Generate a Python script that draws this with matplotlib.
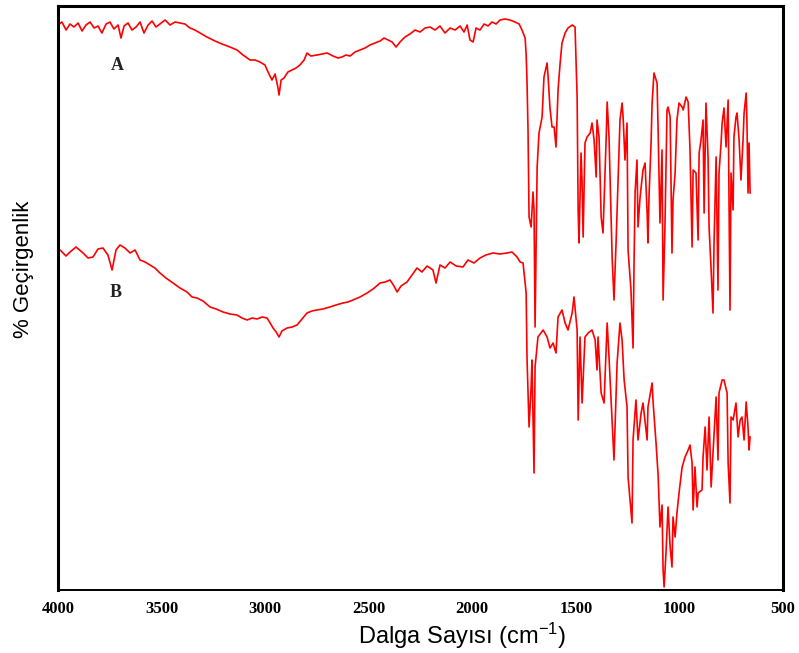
import matplotlib
matplotlib.use("Agg")
import matplotlib.pyplot as plt

# FTIR spectra, transmittance in arbitrary units (no y scale on the original)
wn_a = [4000, 3981, 3961, 3942, 3923, 3903, 3884, 3865, 3845, 3826, 3807, 3788,
        3768, 3749, 3730, 3710, 3696, 3681, 3662, 3643, 3623, 3604, 3585, 3565,
        3546, 3527, 3508, 3483, 3459, 3435, 3411, 3387, 3363, 3339, 3314, 3281,
        3242, 3208, 3170, 3136, 3107, 3073, 3049, 3025, 3001, 2986, 2967, 2952,
        2938, 2933, 2923, 2909, 2890, 2870, 2851, 2832, 2812, 2798, 2779, 2750,
        2725, 2701, 2672, 2648, 2629, 2610, 2590, 2566, 2542, 2518, 2494, 2470,
        2445, 2426, 2407, 2387, 2368, 2349, 2325, 2301, 2276, 2252, 2228, 2204,
        2180, 2156, 2132, 2107, 2083, 2059, 2040, 2025, 2011, 1996, 1982, 1963,
        1943, 1924, 1905, 1885, 1866, 1842, 1818, 1794, 1774, 1760, 1745, 1740,
        1736, 1731, 1726, 1716, 1707, 1702, 1697, 1692, 1687, 1678, 1663, 1654,
        1639, 1634, 1625, 1615, 1605, 1596, 1586, 1576, 1567, 1552, 1538, 1518,
        1504, 1494, 1489, 1485, 1475, 1470, 1465, 1456, 1446, 1431, 1422, 1412,
        1402, 1398, 1388, 1378, 1369, 1354, 1349, 1340, 1325, 1316, 1306, 1296,
        1287, 1277, 1272, 1263, 1253, 1248, 1234, 1224, 1219, 1214, 1205, 1200,
        1190, 1181, 1176, 1166, 1156, 1152, 1147, 1137, 1132, 1123, 1108, 1103,
        1094, 1084, 1079, 1070, 1060, 1055, 1045, 1036, 1031, 1021, 1012, 1002,
        987, 982, 968, 958, 949, 939, 934, 920, 910, 905, 896, 886, 881, 872,
        862, 857, 847, 838, 833, 823, 814, 809, 799, 794, 785, 775, 765, 760,
        756, 751, 741, 737, 727, 722, 712, 703, 693, 688, 678, 674, 669, 664, 659]
t_a = [565, 568, 560, 566, 563, 567, 559, 565, 568, 562, 564, 557,
       566, 568, 561, 565, 552, 564, 567, 560, 563, 568, 557, 565,
       569, 563, 566, 570, 565, 568, 567, 566, 562, 560, 557, 553,
       549, 546, 543, 540, 535, 530, 530, 528, 525, 518, 510, 516,
       502, 495, 510, 512, 518, 520, 522, 525, 530, 537, 534, 535,
       536, 537, 534, 532, 533, 535, 534, 538, 540, 542, 545, 547,
       549, 552, 550, 548, 543, 548, 553, 556, 560, 558, 562, 563,
       560, 564, 557, 562, 560, 564, 558, 565, 550, 548, 562, 560,
       566, 564, 568, 566, 570, 571, 570, 568, 566, 560, 552, 535,
       510, 460, 373, 363, 398, 380, 263, 340, 423, 457, 473, 513,
       527, 513, 482, 463, 463, 443, 500, 527, 547, 557, 562, 565,
       563, 493, 380, 347, 437, 407, 353, 447, 453, 457, 467, 450,
       413, 470, 453, 373, 357, 450, 488, 453, 333, 290, 347, 413,
       470, 487, 473, 430, 467, 340, 300, 242, 330, 398, 430, 363,
       393, 410, 420, 427, 377, 347, 393, 447, 487, 517, 507, 460,
       367, 440, 290, 363, 480, 483, 473, 337, 390, 417, 470, 487,
       483, 480, 493, 488, 440, 343, 420, 417, 350, 437, 450, 470, 377, 487,
       433, 363, 320, 277, 347, 433, 300, 417, 447, 467, 482, 443, 490, 367,
       280, 417, 380, 453, 473, 477, 450, 410, 450, 477, 497, 467, 397, 447, 397]

wn_b = [4000, 3990, 3961, 3942, 3913, 3879, 3855, 3831, 3807, 3783, 3759, 3739,
        3720, 3701, 3677, 3652, 3628, 3604, 3580, 3556, 3532, 3508, 3479, 3445,
        3411, 3377, 3353, 3329, 3300, 3266, 3237, 3203, 3170, 3136, 3112, 3087,
        3063, 3039, 3015, 2991, 2976, 2962, 2947, 2933, 2919, 2894, 2870, 2846,
        2822, 2798, 2774, 2750, 2721, 2687, 2658, 2624, 2600, 2576, 2542, 2508,
        2479, 2445, 2421, 2397, 2378, 2363, 2344, 2315, 2291, 2267, 2243, 2218,
        2190, 2175, 2156, 2132, 2107, 2078, 2045, 2021, 1992, 1963, 1934, 1900,
        1866, 1832, 1808, 1784, 1769, 1755, 1740, 1736, 1726, 1716, 1712, 1702,
        1697, 1683, 1658, 1639, 1625, 1610, 1596, 1586, 1567, 1552, 1538, 1518,
        1509, 1494, 1489, 1480, 1470, 1456, 1441, 1422, 1407, 1398, 1393, 1378,
        1364, 1349, 1340, 1325, 1316, 1301, 1287, 1277, 1267, 1253, 1248, 1229,
        1224, 1210, 1200, 1185, 1176, 1156, 1152, 1132, 1127, 1113, 1103, 1094,
        1084, 1079, 1074, 1065, 1055, 1045, 1036, 1031, 1021, 1012, 1002, 987,
        973, 958, 949, 939, 934, 925, 915, 910, 891, 886, 876, 867, 857, 847,
        838, 823, 814, 809, 794, 785, 770, 765, 756, 751, 741, 727, 717, 707,
        698, 688, 678, 669, 664, 659]
t_b = [340, 340, 334, 338, 343, 337, 332, 333, 341, 342, 335, 320,
       340, 345, 342, 337, 340, 330, 328, 325, 322, 317, 312, 307,
       302, 298, 293, 292, 289, 283, 281, 278, 276, 275, 272, 270,
       272, 271, 273, 272, 267, 262, 258, 253, 259, 262, 263, 265,
       271, 277, 279, 280, 281, 283, 285, 287, 288, 290, 293, 297,
       301, 307, 308, 310, 304, 298, 304, 308, 315, 322, 318, 324,
       320, 307, 325, 322, 328, 324, 323, 330, 327, 332, 335, 337,
       336, 337, 338, 333, 328, 327, 297, 233, 163, 203, 230, 117,
       223, 253, 260, 253, 242, 247, 237, 273, 280, 267, 260, 277,
       293, 260, 170, 253, 187, 253, 257, 260, 250, 220, 253, 197,
       187, 267, 233, 170, 130, 227, 267, 250, 210, 183, 113, 67,
       150, 190, 150, 177, 187, 150, 183, 207, 187, 147, 115, 63,
       85, 20, 3, 37, 83, 43, 23, 73, 53, 77, 97, 123,
       133, 140, 145, 127, 80, 123, 83, 97, 100, 133, 163, 120, 173, 103,
       137, 193, 130, 197, 210, 210, 197, 127, 87, 173, 170, 187, 153, 170,
       173, 150, 188, 163, 140, 153]

x_ticks = [4000, 3500, 3000, 2500, 2000, 1500, 1000, 500]

plt.rcParams["mathtext.fontset"] = "custom"
plt.rcParams["mathtext.rm"] = "Liberation Sans"
plt.rcParams["mathtext.it"] = "Liberation Sans"

fig = plt.figure(figsize=(7.99, 6.53), dpi=100)
ax = fig.add_axes([0.0726, 0.0965, 0.9074, 0.8943])

ax.plot(wn_a, t_a, color="#ff0000", lw=1.2)
ax.plot(wn_b, t_b, color="#ff0000", lw=1.2)

ax.text(3715, 525, "A", ha="center", va="center", fontsize=13,
        fontweight="bold", family="Liberation Serif", color="#222222")
ax.text(3720, 297, "B", ha="center", va="center", fontsize=13,
        fontweight="bold", family="Liberation Serif", color="#222222")

ax.set_xlim(4000, 500)
ax.set_ylim(0, 584)
ax.set_xticks(x_ticks)
ax.set_xticklabels([str(t) for t in x_ticks], family="Liberation Serif",
                   fontweight="bold", fontsize=12)
ax.tick_params(axis="x", length=0, pad=8)
ax.set_yticks([])

for side in ["top", "left", "right"]:
    ax.spines[side].set_linewidth(2.2)
ax.spines["bottom"].set_linewidth(1.4)

fig.text(0.578, 0.026, "Dalga Sayısı (cm$^{-1}$)", ha="center", va="center",
         family="Liberation Sans", fontsize=17)
fig.text(0.029, 0.587, "% Geçirgenlik", rotation=90, ha="center", va="center",
         family="Liberation Sans", fontsize=16)

fig.savefig("out.png", dpi=100)
